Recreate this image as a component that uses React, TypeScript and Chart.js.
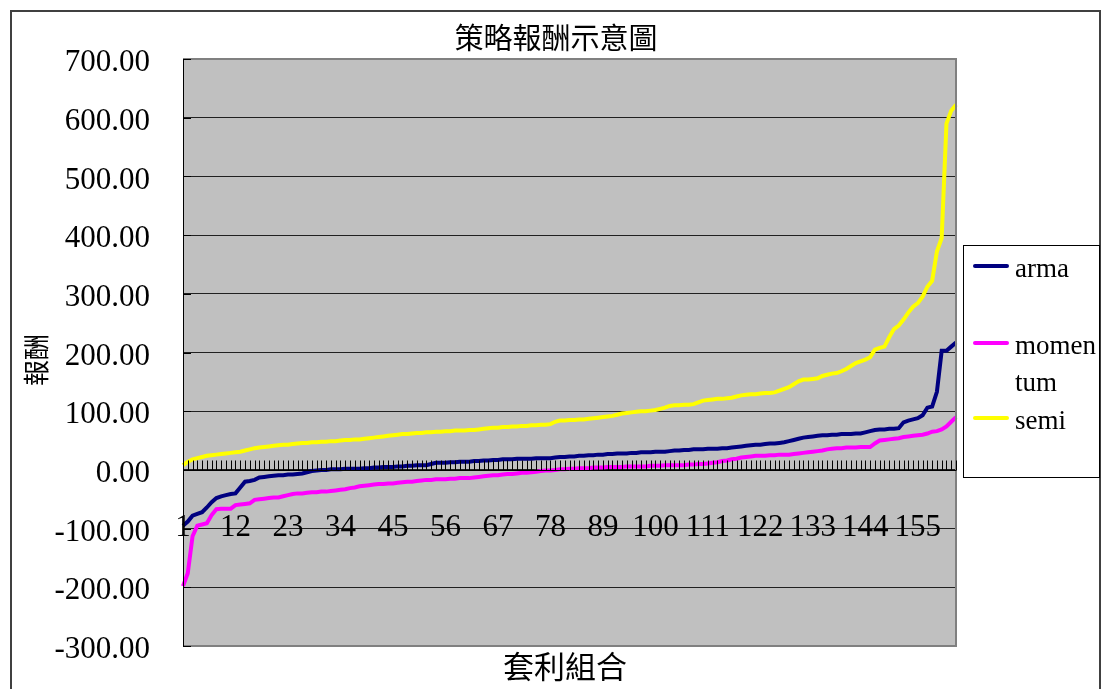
import React, { useEffect, useRef } from "react";
import { Chart, registerables } from "chart.js";

Chart.register(...registerables);

const arma = [
  -95, -88, -78, -75, -72, -64, -55, -48, -45, -43,
  -41, -40, -30, -20, -19, -17, -13, -12, -11, -10,
  -9, -9, -8, -8, -7, -6, -4, -2, -1, 0,
  0, 1, 1, 1, 2, 2, 2, 2, 3, 3,
  4, 4, 5, 5, 5, 6, 6, 7, 7, 8,
  8, 8, 10, 12, 12, 12, 13, 13, 14, 14,
  14, 15, 15, 16, 16, 17, 17, 18, 18, 18,
  19, 19, 19, 19, 20, 20, 20, 20, 21, 22,
  22, 23, 23, 24, 24, 25, 25, 26, 26, 27,
  27, 28, 28, 28, 29, 29, 30, 30, 30, 31,
  31, 31, 32, 33, 33, 34, 34, 35, 35, 35,
  36, 36, 36, 37, 37, 38, 39, 40, 41, 42,
  43, 43, 44, 45, 45, 46, 47, 49, 51, 53,
  55, 56, 57, 58, 59, 59, 60, 60, 61, 61,
  61, 62, 62, 64, 66, 68, 69, 69, 70, 70,
  71, 81, 84, 86, 88, 93, 106, 108, 133, 203,
  203, 210, 217,
];

const momentum = [
  -198, -176, -113, -95, -93, -91, -77, -67, -66, -66,
  -66, -60, -59, -58, -57, -51, -50, -49, -48, -47,
  -47, -45, -43, -41, -40, -40, -39, -38, -38, -37,
  -37, -36, -35, -34, -33, -31, -30, -28, -27, -26,
  -25, -24, -24, -23, -23, -22, -21, -20, -20, -19,
  -18, -17, -17, -16, -16, -16, -15, -15, -14, -14,
  -14, -13, -12, -11, -10, -9, -9, -8, -7, -7,
  -6, -5, -5, -4, -3, -2, -1, -1, 0, 1,
  1, 2, 2, 3, 3, 3, 4, 4, 4, 5,
  5, 5, 5, 6, 6, 6, 6, 6, 7, 7,
  7, 8, 8, 8, 8, 8, 9, 9, 10, 10,
  11, 12, 13, 15, 16, 18, 19, 21, 22, 23,
  24, 24, 24, 25, 25, 26, 26, 26, 27, 28,
  29, 30, 31, 32, 33, 35, 36, 37, 37, 38,
  38, 38, 39, 39, 39, 45, 50, 51, 52, 53,
  54, 56, 57, 58, 59, 60, 62, 65, 66, 69,
  74, 82, 90,
];

const semi = [
  8, 14, 18, 20, 22, 24, 25, 26, 27, 28,
  29, 30, 31, 33, 35, 37, 38, 39, 40, 41,
  42, 43, 43, 44, 45, 46, 46, 47, 47, 48,
  48, 49, 49, 50, 51, 51, 52, 52, 53, 54,
  55, 56, 57, 58, 59, 60, 61, 61, 62, 63,
  63, 64, 64, 65, 65, 66, 66, 67, 67, 67,
  68, 68, 69, 70, 71, 72, 72, 73, 73, 74,
  74, 75, 75, 76, 76, 77, 77, 78, 82, 84,
  84, 85, 85, 86, 86, 87, 88, 89, 90, 91,
  92, 94, 96, 97, 98, 99, 100, 100, 101, 102,
  104, 106, 109, 110, 110, 111, 111, 112, 115, 118,
  119, 120, 121, 121, 122, 123, 125, 127, 128, 129,
  129, 130, 131, 131, 132, 135, 138, 141, 146, 151,
  154, 154, 155, 156, 160, 162, 164, 165, 168, 172,
  177, 182, 185, 188, 192, 205, 208, 210, 226, 240,
  246, 256, 268, 278, 284, 295, 312, 322, 372, 395,
  590, 612, 622,
];

const categories = arma.map((_, i) => String(i + 1));
const xTickLabels = ["1", "12", "23", "34", "45", "56", "67", "78", "89", "100", "111", "122", "133", "144", "155"];
const seriesNames = ["arma", "momentum", "semi"];
const seriesColors = ["#000080", "#FF00FF", "#FFFF00"];
const legendLines = [["arma"], ["momen", "tum"], ["semi"]];

const chartTitle = "策略報酬示意圖";
const yTitle = "報酬";
const xTitle = "套利組合";

const SERIF = "'Liberation Serif', 'Times New Roman', serif";
const CJK = "'Noto Sans CJK TC', 'Noto Sans CJK SC', sans-serif";

const excelPlugin = {
  id: "excelLook",
  beforeDraw(chart: any) {
    const { ctx, chartArea: a } = chart;
    ctx.save();
    ctx.fillStyle = "#ffffff";
    ctx.fillRect(0, 0, chart.width, chart.height);
    ctx.fillStyle = "#C0C0C0";
    ctx.fillRect(a.left, a.top, a.right - a.left, a.bottom - a.top);
    ctx.restore();
  },
  afterDatasetsDraw(chart: any) {
    const { ctx, chartArea: a } = chart;
    const xs = chart.scales.x;
    const ys = chart.scales.y;
    ctx.save();
    // plot border (gray) on top/right/bottom
    ctx.strokeStyle = "#808080";
    ctx.lineWidth = 2;
    ctx.beginPath();
    ctx.moveTo(a.left, a.top);
    ctx.lineTo(a.right, a.top);
    ctx.lineTo(a.right, a.bottom);
    ctx.lineTo(a.left, a.bottom);
    ctx.stroke();
    // left axis
    ctx.strokeStyle = "#000";
    ctx.lineWidth = 1;
    ctx.beginPath();
    ctx.moveTo(Math.round(a.left) + 0.5, a.top);
    ctx.lineTo(Math.round(a.left) + 0.5, a.bottom);
    ctx.stroke();
    // small inside ticks on y axis
    ctx.beginPath();
    ys.ticks.forEach((t: any) => {
      const y = Math.round(ys.getPixelForValue(t.value)) + 0.5;
      ctx.moveTo(a.left, y);
      ctx.lineTo(a.left + 8, y);
    });
    ctx.stroke();
    // x axis at zero
    const y0 = Math.round(ys.getPixelForValue(0)) + 0.5;
    ctx.beginPath();
    ctx.moveTo(a.left, y0);
    ctx.lineTo(a.right, y0);
    ctx.stroke();
    ctx.beginPath();
    for (let i = 0; i < categories.length; i++) {
      const x = Math.round(xs.getPixelForValue(i)) + 0.5;
      ctx.moveTo(x, y0);
      ctx.lineTo(x, y0 - 10);
    }
    ctx.stroke();
    // x tick labels
    ctx.fillStyle = "#000";
    ctx.font = `31px ${SERIF}`;
    ctx.textAlign = "center";
    ctx.textBaseline = "middle";
    const ly = ys.getPixelForValue(-100) - 1;
    xTickLabels.forEach((lab) => {
      const idx = categories.indexOf(lab);
      ctx.fillText(lab, xs.getPixelForValue(idx), ly);
    });
    ctx.restore();
  },
  afterDraw(chart: any) {
    const { ctx } = chart;
    ctx.save();
    // outer chart border
    ctx.strokeStyle = "#404040";
    ctx.lineWidth = 2;
    ctx.strokeRect(11, 11, 1089, 700);
    // title
    ctx.fillStyle = "#000";
    ctx.textAlign = "center";
    ctx.textBaseline = "middle";
    ctx.font = `29px ${CJK}`;
    ctx.fillText(chartTitle, 556, 38);
    // x title
    ctx.font = `31px ${CJK}`;
    ctx.fillText(xTitle, 565, 666);
    // y title
    ctx.save();
    ctx.translate(36, 360);
    ctx.rotate(-Math.PI / 2);
    ctx.font = `26px ${CJK}`;
    ctx.fillText(yTitle, 0, 0);
    ctx.restore();
    // legend
    ctx.fillStyle = "#fff";
    ctx.fillRect(963, 245, 136, 232);
    ctx.strokeStyle = "#000";
    ctx.lineWidth = 1;
    ctx.strokeRect(963.5, 245.5, 136, 232);
    const lineYs = [266, 343, 418];
    ctx.font = `27px ${SERIF}`;
    ctx.textAlign = "left";
    ctx.textBaseline = "middle";
    seriesNames.forEach((_, k) => {
      ctx.strokeStyle = seriesColors[k];
      ctx.lineWidth = 4;
      ctx.lineCap = "round";
      ctx.beginPath();
      ctx.moveTo(975, lineYs[k]);
      ctx.lineTo(1007, lineYs[k]);
      ctx.stroke();
      ctx.fillStyle = "#000";
      legendLines[k].forEach((t, j) => {
        ctx.fillText(t, 1015, lineYs[k] + 4 + j * 37);
      });
    });
    ctx.restore();
  },
};

export default function App() {
  const ref = useRef<HTMLCanvasElement | null>(null);
  useEffect(() => {
    if (!ref.current) return;
    const chart = new Chart(ref.current, {
      type: "line",
      data: {
        labels: categories,
        datasets: [
          { label: seriesNames[0], data: arma, borderColor: seriesColors[0], borderWidth: 4, pointRadius: 0, tension: 0, fill: false },
          { label: seriesNames[1], data: momentum, borderColor: seriesColors[1], borderWidth: 4, pointRadius: 0, tension: 0, fill: false },
          { label: seriesNames[2], data: semi, borderColor: seriesColors[2], borderWidth: 4, pointRadius: 0, tension: 0, fill: false },
        ],
      },
      options: {
        responsive: false,
        animation: false,
        devicePixelRatio: 1,
        layout: { padding: { top: 59, right: 146, bottom: 43, left: 0 } },
        plugins: { legend: { display: false }, title: { display: false }, tooltip: { enabled: false } },
        scales: {
          x: { type: "category", display: false, offset: false },
          y: {
            min: -300,
            max: 700,
            ticks: {
              stepSize: 100,
              callback: (v: any) => Number(v).toFixed(2),
              color: "#000",
              font: { family: SERIF, size: 31 },
              padding: 0,
              labelOffset: 4,
            },
            grid: { color: "#202020", lineWidth: 1, drawTicks: true, tickLength: 33, tickColor: "rgba(0,0,0,0)" },
            border: { color: "#000" },
            afterFit: (s: any) => {
              s.width = 183;
            },
          },
        },
      },
      plugins: [excelPlugin],
    } as any);
    return () => chart.destroy();
  }, []);
  return (
    <div style={{ position: "absolute", left: 0, top: 0, width: 1102, height: 689, background: "#fff" }}>
      <canvas ref={ref} width={1102} height={689} style={{ display: "block" }} />
    </div>
  );
}
